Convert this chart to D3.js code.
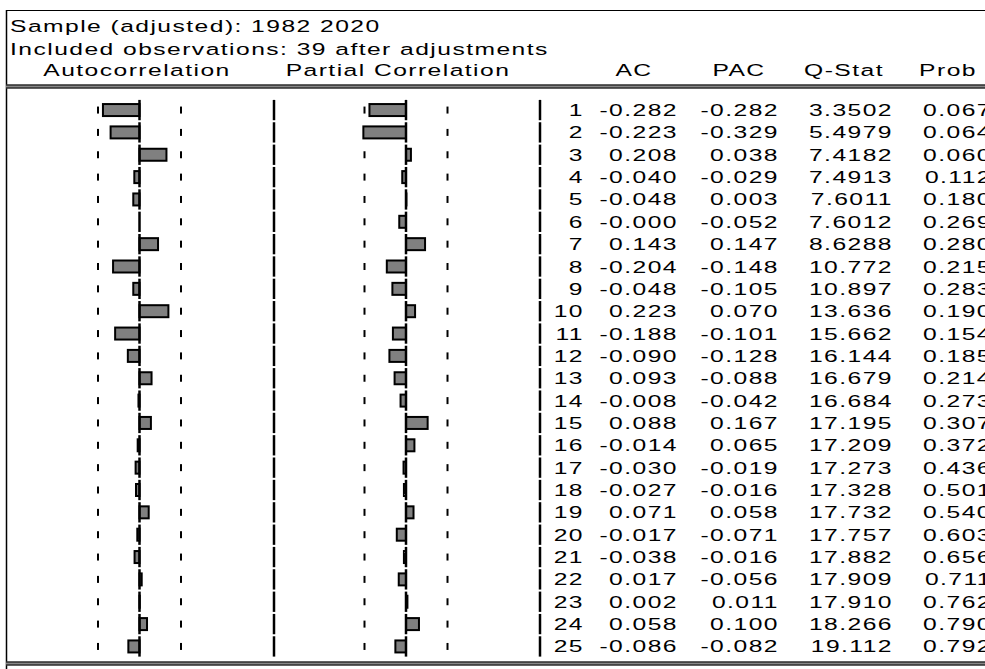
<!DOCTYPE html>
<html>
<head>
<meta charset="utf-8">
<script src="https://cdn.jsdelivr.net/npm/d3@7"></script>
<style>
  body { margin: 0; background: #fff; }
  text { font-family: Arial, "Liberation Sans", sans-serif; font-size: 17px; fill: #000; letter-spacing: 1px; }
</style>
</head>
<body>
<script>
// correlogram values
var lags = d3.range(1, 26);
var ac = [-0.282, -0.223, 0.208, -0.040, -0.048, -0.000, 0.143, -0.204, -0.048, 0.223,
          -0.188, -0.090, 0.093, -0.008, 0.088, -0.014, -0.030, -0.027, 0.071, -0.017,
          -0.038, 0.017, 0.002, 0.058, -0.086];
var pac = [-0.282, -0.329, 0.038, -0.029, 0.003, -0.052, 0.147, -0.148, -0.105, 0.070,
           -0.101, -0.128, -0.088, -0.042, 0.167, 0.065, -0.019, -0.016, 0.058, -0.071,
           -0.016, -0.056, 0.011, 0.100, -0.082];
var qstat = [3.3502, 5.4979, 7.4182, 7.4913, 7.6011, 7.6012, 8.6288, 10.772, 10.897, 13.636,
             15.662, 16.144, 16.679, 16.684, 17.195, 17.209, 17.273, 17.328, 17.732, 17.757,
             17.882, 17.909, 17.910, 18.266, 19.112];
var prob = [0.067, 0.064, 0.060, 0.112, 0.180, 0.269, 0.280, 0.215, 0.283, 0.190,
            0.154, 0.185, 0.214, 0.273, 0.307, 0.372, 0.436, 0.501, 0.540, 0.603,
            0.656, 0.711, 0.762, 0.790, 0.792];
var nobs = 39;
var headerLines = ["Sample (adjusted): 1982 2020", "Included observations: 39 after adjustments"];
var colHeads = ["Autocorrelation", "Partial Correlation", "AC", "PAC", "Q-Stat", "Prob"];

var width = 985, height = 669;
var stretch = 1.45;   // the output font is drawn wide
var svg = d3.select("body").append("svg")
            .attr("width", width)
            .attr("height", height);

var bound = 2 / Math.sqrt(nobs);
var halfW = 129.6;

// rows
var yScale = d3.scaleBand().domain(lags).range([100, 656.5]).paddingInner(0.1);
var rowY = function(l) { return yScale(l) - 1.1; };
var rowH = yScale.bandwidth() + 2.2;
var midY = function(l) { return yScale(l) + yScale.bandwidth() / 2; };

var fmt3 = function(v) { return (v < 0 || Object.is(v, -0) ? "-" : "") + Math.abs(v).toFixed(3); };
var place = function(x, y) { return "translate(" + x + "," + y + ") scale(" + stretch + ",1)"; };

// frame
svg.append("line").attr("x1", 6).attr("x2", width).attr("y1", 10.5).attr("y2", 10.5)
   .attr("stroke", "#000").attr("stroke-width", 1.2);
svg.append("line").attr("x1", 6.5).attr("x2", 6.5).attr("y1", 10).attr("y2", height)
   .attr("stroke", "#000").attr("stroke-width", 1.5);

function doubleLine(y) {
  svg.append("rect").attr("x", 6).attr("y", y).attr("width", width).attr("height", 4)
     .attr("fill", "#888");
  svg.append("line").attr("x1", 6).attr("x2", width).attr("y1", y + 0.5).attr("y2", y + 0.5)
     .attr("stroke", "#000").attr("stroke-width", 1.2);
  svg.append("line").attr("x1", 6).attr("x2", width).attr("y1", y + 3.5).attr("y2", y + 3.5)
     .attr("stroke", "#000").attr("stroke-width", 1.2);
}
doubleLine(84.5);
doubleLine(661.5);

// header text
svg.selectAll("text.head").data(headerLines).enter().append("text")
   .attr("class", "head")
   .attr("transform", function(d, i) { return place(10, 32 + i * 22.5); })
   .text(function(d) { return d; });

var headX = [137, 398, 634, 739, 844, 948];
svg.selectAll("text.col").data(colHeads).enter().append("text")
   .attr("class", "col")
   .attr("transform", function(d, i) { return place(headX[i], 76); })
   .attr("text-anchor", "middle")
   .text(function(d) { return d; });

// bar panels
function panel(vals, cx) {
  var x = d3.scaleLinear().domain([-1, 1]).range([cx - halfW, cx + halfW]);
  var g = svg.append("g");
  // confidence bound ticks
  [-bound, bound].forEach(function(b) {
    g.selectAll(null).data(lags).enter().append("line")
     .attr("x1", x(b)).attr("x2", x(b))
     .attr("y1", function(l) { return midY(l) - 3.5; })
     .attr("y2", function(l) { return midY(l) + 3.5; })
     .attr("stroke", "#000").attr("stroke-width", 2);
  });
  // bars
  g.selectAll(null).data(vals).enter().append("rect")
   .attr("x", function(d) { return Math.min(x(d), x(0)); })
   .attr("y", function(d, i) { return midY(lags[i]) - 6; })
   .attr("width", function(d) { return Math.abs(x(d) - x(0)); })
   .attr("height", 12)
   .attr("fill", "#808080")
   .attr("stroke", "#000")
   .attr("stroke-width", 2);
  // zero line segments
  g.selectAll(null).data(lags).enter().append("line")
   .attr("x1", x(0)).attr("x2", x(0))
   .attr("y1", function(l) { return rowY(l) + 1; })
   .attr("y2", function(l) { return rowY(l) + rowH - 1; })
   .attr("stroke", "#000").attr("stroke-width", 2.5);
}
panel(ac, 139.5);
panel(pac, 406);

// separators
[274, 540].forEach(function(sx) {
  svg.selectAll(null).data(lags).enter().append("line")
     .attr("x1", sx).attr("x2", sx)
     .attr("y1", function(l) { return rowY(l) + 1; })
     .attr("y2", function(l) { return rowY(l) + rowH - 1; })
     .attr("stroke", "#000").attr("stroke-width", 2.5);
});

// numeric columns (right edges)
var cols = [
  {vals: lags, x: 584, f: function(d) { return String(d); }},
  {vals: ac, x: 678, f: fmt3},
  {vals: pac, x: 779, f: fmt3},
  {vals: qstat, x: 893, f: function(d) { return d.toPrecision(5); }},
  {vals: prob, x: 992, f: fmt3}
];
cols.forEach(function(c) {
  svg.selectAll(null).data(c.vals).enter().append("text")
     .attr("transform", function(d, i) { return place(c.x, midY(lags[i]) + 6); })
     .attr("text-anchor", "end")
     .text(c.f);
});
</script>
</body>
</html>
